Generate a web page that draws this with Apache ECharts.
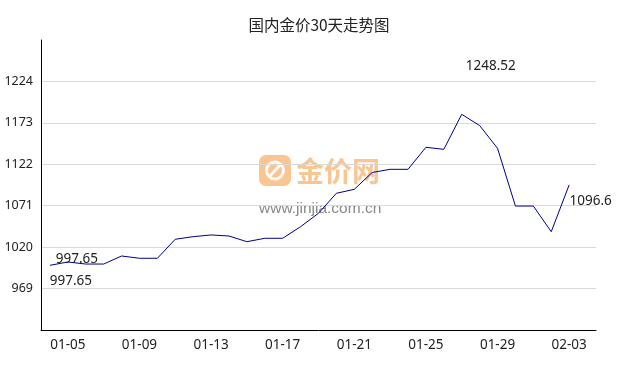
<!DOCTYPE html>
<html>
<head>
<meta charset="utf-8">
<script src="https://cdn.jsdelivr.net/npm/echarts@6/dist/echarts.min.js"></script>
<style>html,body{margin:0;padding:0;background:#fff;}#c{width:638px;height:370px;}</style>
</head>
<body>
<div id="c"></div>
<script>
const categories = ['01-04','01-05','01-06','01-07','01-08','01-09','01-10','01-11','01-12','01-13',
  '01-14','01-15','01-16','01-17','01-18','01-19','01-20','01-21','01-22','01-23',
  '01-24','01-25','01-26','01-27','01-28','01-29','01-30','01-31','02-02','02-03'];
const values = [997.65, 1001.7, 999.2, 999.2, 1009.1, 1006.3, 1006.3, 1029.7, 1032.9, 1035.0,
  1033.7, 1026.7, 1030.9, 1030.9, 1045.2, 1061.7, 1086.3, 1091.2, 1111.9, 1115.8,
  1115.8, 1142.9, 1140.4, 1183.5, 1169.7, 1141.7, 1070.6, 1070.6, 1039.0, 1096.6];
const xTickLabels = ['01-05','01-09','01-13','01-17','01-21','01-25','01-29','02-03'];
const yTickLabels = [969, 1020, 1071, 1122, 1173, 1224];
const annotationTexts = ['997.65', '997.65', '1248.52', '1096.6'];

const chart = echarts.init(document.getElementById('c'), null, {renderer: 'canvas'});
const labelFont = {color: '#222', fontSize: 13.5, fontFamily: 'Noto Sans'};
const last = values.length - 1;

chart.setOption({
  animation: false,
  backgroundColor: '#fff',
  title: {
    text: '国内金价30天走势图', left: 'center', top: 17, padding: 0,
    textStyle: {fontSize: 15.5, fontWeight: 'normal', color: '#222', fontFamily: 'Noto Sans CJK SC'}
  },
  grid: {left: 41, right: 42, top: 40, bottom: 40},
  xAxis: {
    type: 'category',
    data: categories.concat(['']),
    boundaryGap: true,
    axisLine: {show: true, lineStyle: {color: '#000', width: 1}},
    axisTick: {show: false},
    splitLine: {show: false},
    axisLabel: {
      interval: (i, v) => xTickLabels.includes(v),
      color: '#222', fontSize: 13.5, fontFamily: 'Noto Sans', margin: 8
    }
  },
  yAxis: {
    type: 'value', min: 918, max: 1275, interval: 51,
    axisLine: {show: true, lineStyle: {color: '#000', width: 1}},
    axisTick: {show: false},
    axisLabel: {
      color: '#222', fontSize: 12.5, fontFamily: 'Noto Sans', margin: 8,
      formatter: v => yTickLabels.includes(v) ? String(v) : ''
    },
    splitLine: {show: true, showMinLine: false, showMaxLine: false, lineStyle: {color: '#d9d9d9', width: 1}}
  },
  graphic: [
    {type: 'rect', z: 0, silent: true, shape: {x: 259, y: 155, width: 32, height: 31, r: 7},
     style: {fill: '#f5a04a', opacity: 0.6}},
    {type: 'circle', z: 0, silent: true, shape: {cx: 275, cy: 170.5, r: 8.5},
     style: {fill: 'none', stroke: '#fff', lineWidth: 3, opacity: 0.9}},
    {type: 'line', z: 0, silent: true, shape: {x1: 269, y1: 177, x2: 281, y2: 164},
     style: {stroke: '#fff', lineWidth: 3, opacity: 0.9}},
    {type: 'text', z: 0, silent: true, x: 296, y: 171.5,
     style: {text: '金价网', fill: '#f5a04a', opacity: 0.6, font: 'bold 28px "Noto Sans CJK SC"', textVerticalAlign: 'middle'}},
    {type: 'text', z: 0, silent: true, x: 259, y: 209,
     style: {text: 'www.jinjia.com.cn', fill: '#888', font: '15.5px "Liberation Sans"', textVerticalAlign: 'middle'}}
  ],
  series: [{
    type: 'line',
    data: values,
    showSymbol: false,
    symbol: 'none',
    lineStyle: {color: '#00008B', width: 1},
    itemStyle: {color: '#00008B'},
    z: 3,
    markPoint: {
      silent: true,
      symbol: 'circle',
      symbolSize: 0,
      itemStyle: {color: 'rgba(0,0,0,0)'},
      label: Object.assign({show: true, position: 'inside'}, labelFont),
      data: [
        {coord: [categories[0], values[0]], label: {formatter: annotationTexts[0], offset: [27, -6]}},
        {coord: [categories[0], values[0]], label: {formatter: annotationTexts[1], offset: [21, 16]}},
        {type: 'max', label: {formatter: annotationTexts[2], offset: [29, -48]}},
        {coord: [categories[last], values[last]], label: {formatter: annotationTexts[3], offset: [21.5, 16]}}
      ]
    }
  }]
});
</script>
</body>
</html>
